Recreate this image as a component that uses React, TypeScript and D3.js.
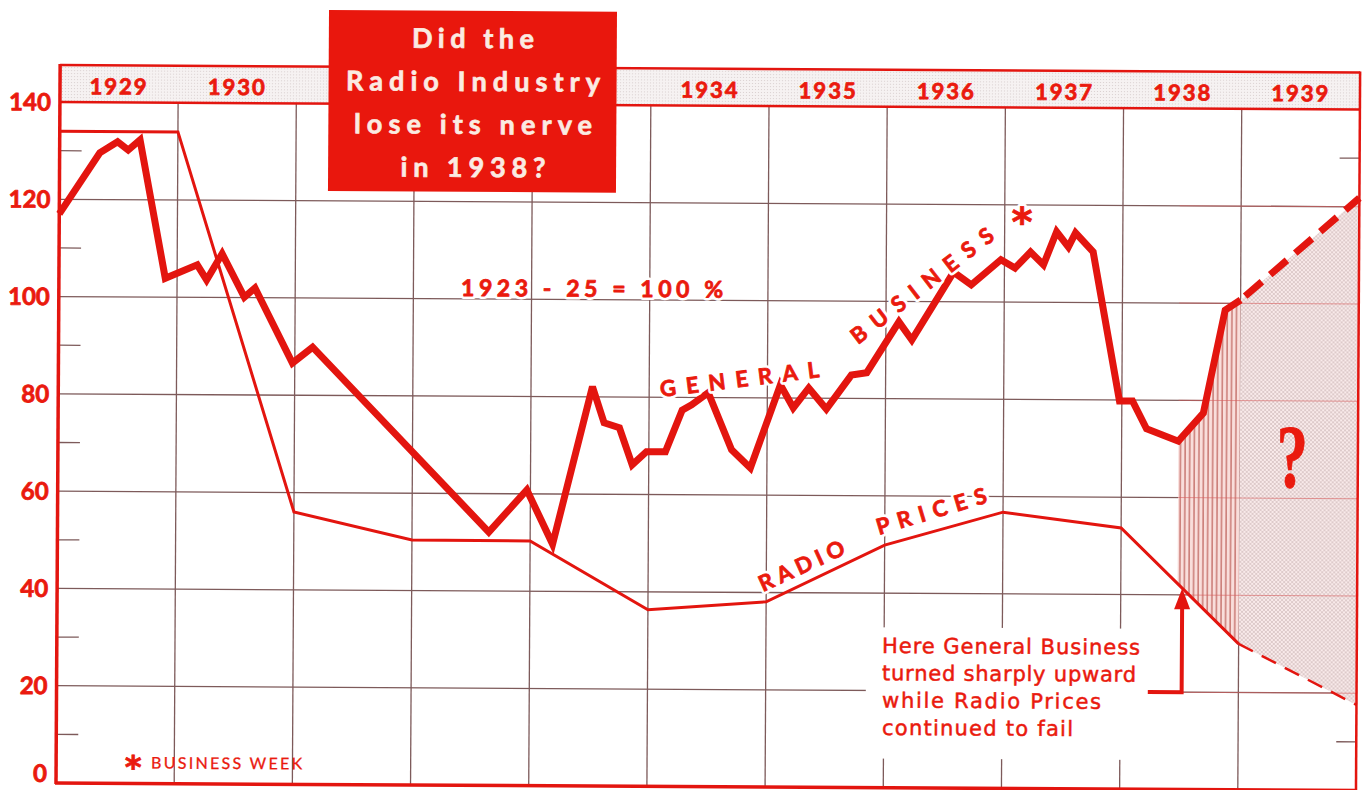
import React from 'react'
import * as d3 from 'd3'

// index values, 1923-25 = 100
const businessYears = [1929.0, 1929.34, 1929.49, 1929.58, 1929.68, 1929.9, 1930.17, 1930.25, 1930.38, 1930.57, 1930.66, 1930.98, 1931.15, 1932.65, 1932.97, 1933.19, 1933.52, 1933.62, 1933.75, 1933.86, 1933.98, 1934.14, 1934.28, 1934.36, 1934.5, 1934.7, 1934.86, 1935.11, 1935.22, 1935.35, 1935.5, 1935.71, 1935.84, 1936.11, 1936.22, 1936.57, 1936.72, 1936.97, 1937.09, 1937.22, 1937.33, 1937.44, 1937.54, 1937.6, 1937.75, 1937.98, 1938.09, 1938.21, 1938.48, 1938.69, 1938.87, 1939.0]
const businessValues = [117, 129.6, 131.9, 130.2, 132.3, 103.9, 106.7, 103.6, 109.0, 100.1, 102.0, 86.6, 89.9, 52.1, 60.8, 49.7, 82.1, 74.7, 73.7, 66.1, 68.8, 68.8, 77.4, 78.5, 81.0, 69.3, 65.6, 82.7, 78.0, 82.1, 77.8, 84.8, 85.3, 95.8, 92.1, 106.1, 103.5, 108.7, 107.0, 110.3, 107.7, 114.5, 111.4, 114.3, 110.4, 79.8, 79.8, 74.1, 71.6, 77.4, 98.6, 100.7]
const businessProjYears = [1939.0, 1940.0]
const businessProjValues = [100.7, 121.8]

const radioYears = [1929, 1930, 1931, 1932, 1933, 1934, 1935, 1936, 1937, 1938, 1939]
const radioValues = [134, 134, 56, 50.4, 50.3, 36.3, 38.1, 49.9, 56.8, 53.7, 30.0]
const radioProjYears = [1939, 1940]
const radioProjValues = [30.0, 17.6]

const headerYears = [1929, 1930, 1934, 1935, 1936, 1937, 1938, 1939]
const gridYears = [1930, 1931, 1932, 1933, 1934, 1935, 1936, 1937, 1938, 1939]
const yTicks = [0, 20, 40, 60, 80, 100, 120, 140]
const gridValues = [20, 40, 60, 80, 100, 120]
const minorTicks = [10, 30, 50, 70, 90, 110, 130]

const titleLines = ['Did the', 'Radio Industry', 'lose its nerve', 'in 1938?']
const noteLines = ['Here General Business', 'turned sharply upward', 'while Radio Prices', 'continued to fail']

const RED = '#e3150f'
const TXT = '#ea1a0e'
const GRID = '#7d5a5a'
const SANS = 'Lato, "Open Sans", sans-serif'
const HAND = '"DejaVu Sans", sans-serif'

// the scan is turned a little clockwise
const TILT = 0.33
const k = Math.sin((TILT * Math.PI) / 180)
const PX = 56
const PY = 783
const U = (X: number, Y: number): [number, number] => [X + (Y - PY) * k, Y - (X - PX) * k]

// bold red text with a white knock-out behind it
const Label = ({ children, halo = true, ...p }: any) => (
  <g>
    {halo && <text {...p} fill="#fff" stroke="#fff" strokeWidth={6} strokeLinejoin="round">{children}</text>}
    <text {...p} fill={TXT} stroke={TXT} strokeWidth={0.8} strokeLinejoin="round">{children}</text>
  </g>
)

export default function App() {
  const x = d3.scaleLinear().domain([1929, 1940]).range([56, 1356])
  const y = d3.scaleLinear().domain([0, 140]).range([783, 102])
  const radioAt = d3.scaleLinear().domain(radioYears).range(radioValues)

  const biz: [number, number][] = businessYears.map((t, i) => [t, businessValues[i]])
  const bizProj: [number, number][] = businessProjYears.map((t, i) => [t, businessProjValues[i]])
  const radio: [number, number][] = radioYears.map((t, i) => [t, radioValues[i]])
  const radioProj: [number, number][] = radioProjYears.map((t, i) => [t, radioProjValues[i]])

  const line = d3.line<[number, number]>().x(d => x(d[0])).y(d => y(d[1]))

  // gap between business low of 1938 and year end
  const low = d3.least(biz.filter(d => d[0] >= 1938), d => d[1])!
  const hatchPts = biz.filter(d => d[0] >= low[0])
  const hatch = d3.area<[number, number]>()
    .x(d => x(d[0]))
    .y1(d => y(d[1]))
    .y0(d => y(radioAt(d[0])))(hatchPts)

  const proj = d3.area<number>()
    .x(i => x(businessProjYears[i]))
    .y1(i => y(businessProjValues[i]))
    .y0(i => y(radioProjValues[i]))(businessProjYears.map((_, i) => i))

  const xL = x(1929)
  const xR = x(1940)
  const yTop = y(140)
  const yBot = y(0)
  const headTop = 65

  // text placement (picture coords -> chart coords)
  const numLbl = U(461, 296)
  const gen = U(661, 397)
  const bus = U(858, 345)
  const star = U(1022, 236)
  const radioLbl = U(763, 592)
  const pricesLbl = U(879, 535)
  const q = U(1292, 487)
  const noteX = U(882, 653)[0]
  const box = U(329, 10)

  const arrowYear = 1938.52
  const ax = x(arrowYear)
  const ay = y(radioAt(arrowYear))
  const ah = y(20)

  return (
    <svg width={1362} height={790} style={{ position: 'absolute', left: 0, top: 0, background: '#fff' }}>
      <defs>
        <pattern id="hatch" patternUnits="userSpaceOnUse" width={4.6} height={8}>
          <rect width={4.6} height={8} fill="#f9dedb" />
          <line x1={1} x2={1} y1={0} y2={8} stroke="#b8554f" strokeWidth={1.1} />
        </pattern>
        <pattern id="dots" patternUnits="userSpaceOnUse" width={4} height={4}>
          <rect width={4} height={4} fill="#f9eaea" />
          <circle cx={1} cy={1} r={0.75} fill="#b49a9a" />
          <circle cx={3} cy={3} r={0.75} fill="#b49a9a" />
        </pattern>
        <pattern id="head" patternUnits="userSpaceOnUse" width={3} height={3}>
          <rect width={3} height={3} fill="#f6f2f2" />
          <circle cx={1.5} cy={1.5} r={0.6} fill="#d6cccc" />
        </pattern>
      </defs>

      <g transform={`rotate(${TILT} ${PX} ${PY})`}>
        {/* grid */}
        {gridValues.map(v => (
          <line key={'h' + v} x1={xL} x2={xR} y1={y(v)} y2={y(v)} stroke={GRID} strokeWidth={1.3} />
        ))}
        {gridYears.map(t => (
          <line key={'v' + t} x1={x(t)} x2={x(t)} y1={yTop} y2={yBot} stroke={GRID} strokeWidth={1.3} />
        ))}
        {minorTicks.map(v => (
          <g key={'m' + v}>
            <line x1={xL} x2={xL + 22} y1={y(v)} y2={y(v)} stroke={GRID} strokeWidth={1.3} />
            <line x1={xR - 20} x2={xR} y1={y(v)} y2={y(v)} stroke={GRID} strokeWidth={1.3} />
          </g>
        ))}

        {/* knock-out behind note */}
        <rect x={noteX - 16} y={y(33)} width={284} height={y(6) - y(33)} fill="#fff" />

        {/* shaded areas */}
        <path d={hatch ?? ''} fill="url(#hatch)" />
        <path d={proj ?? ''} fill="url(#dots)" />
        {gridValues.map(v => (
          <line key={'hr' + v} x1={x(low[0])} x2={xR} y1={y(v)} y2={y(v)} stroke="#d86060" strokeWidth={1} opacity={0.6} />
        ))}

        {/* header band */}
        <rect x={xL} y={headTop} width={xR - xL} height={yTop - headTop} fill="url(#head)" />
        <line x1={xL} x2={xR} y1={headTop} y2={headTop} stroke={RED} strokeWidth={2.5} />
        <line x1={xL} x2={xR} y1={yTop} y2={yTop} stroke={RED} strokeWidth={2.5} />
        {headerYears.map(t => (
          <Label key={'yr' + t} halo={false} x={x(t + 0.5)} y={94} textAnchor="middle" fontFamily={SANS} fontWeight={700}
            fontSize={22} letterSpacing={2}>{t}</Label>
        ))}

        {/* frame */}
        <line x1={xL} x2={xL} y1={headTop - 1} y2={yBot + 1} stroke={RED} strokeWidth={3.5} />
        <line x1={xR} x2={xR} y1={headTop - 1} y2={yBot + 1} stroke={RED} strokeWidth={2.5} />
        <line x1={xL - 1} x2={xR + 1} y1={yBot} y2={yBot} stroke={RED} strokeWidth={3.5} />

        {/* y labels */}
        {yTicks.map(v => (
          <Label key={'yl' + v} halo={false} x={47} y={Math.min(y(v) + 8.5, 782)} textAnchor="end" fontFamily={SANS}
            fontWeight={700} fontSize={24}>{v}</Label>
        ))}

        {/* radio prices */}
        <path d={line(radio) ?? ''} fill="none" stroke={RED} strokeWidth={3} strokeLinejoin="miter" />
        <path d={line(radioProj) ?? ''} fill="none" stroke={RED} strokeWidth={2.5} strokeDasharray="16 10" />

        {/* general business */}
        <path d={line(biz) ?? ''} fill="none" stroke={RED} strokeWidth={7} strokeLinejoin="miter" strokeMiterlimit={3} />
        <path d={line(bizProj) ?? ''} fill="none" stroke={RED} strokeWidth={7} strokeDasharray="22 11" strokeDashoffset={-6} />

        {/* labels on the lines */}
        <Label x={numLbl[0]} y={numLbl[1]} fontFamily={SANS} fontWeight={700} fontSize={23}
          textLength={262} lengthAdjust="spacing">1923 - 25 = 100 %</Label>
        <Label transform={`translate(${gen[0]},${gen[1]}) rotate(-7.5)`} fontFamily={SANS} fontWeight={700} fontSize={22}
          textLength={160} lengthAdjust="spacing">GENERAL</Label>
        <Label transform={`translate(${bus[0]},${bus[1]}) rotate(-38)`} fontFamily={SANS} fontWeight={700} fontSize={22}
          textLength={174} lengthAdjust="spacing">BUSINESS</Label>
        <Label x={star[0]} y={star[1]} textAnchor="middle" fontFamily={HAND} fontWeight={700} fontSize={40}>*</Label>
        <Label transform={`translate(${radioLbl[0]},${radioLbl[1]}) rotate(-25)`} fontFamily={SANS} fontWeight={700}
          fontSize={22} textLength={92} lengthAdjust="spacing">RADIO</Label>
        <Label transform={`translate(${pricesLbl[0]},${pricesLbl[1]}) rotate(-17)`} fontFamily={SANS} fontWeight={700}
          fontSize={22} textLength={114} lengthAdjust="spacing">PRICES</Label>

        {/* question mark */}
        <Label halo={false} transform={`translate(${q[0]},${q[1]}) scale(0.7,1)`} textAnchor="middle"
          fontFamily='"Liberation Serif", serif' fontWeight={700} fontSize={90}>?</Label>

        {/* note + arrow */}
        {noteLines.map((s, i) => {
          const p = U(882, 653 + i * 27.3)
          const lens = [258, 254, 219, 191]
          return (
            <text key={s} x={p[0]} y={p[1]} fontFamily={HAND} fontSize={21} fill={TXT} stroke={TXT} strokeWidth={0.5}
              textLength={lens[i]} lengthAdjust="spacing">{s}</text>
          )
        })}
        <path d={`M${noteX + 266},${ah} H${ax} V${ay + 18}`} fill="none" stroke={RED} strokeWidth={4} />
        <path d={`M${ax},${ay} L${ax - 8},${ay + 21} L${ax + 8},${ay + 21} Z`} fill={RED} />

        {/* source */}
        <Label halo={false} x={133} y={778} textAnchor="middle" fontFamily={HAND} fontWeight={700} fontSize={32}>*</Label>
        <text x={151} y={768} fontFamily={SANS} fontSize={16} fill={TXT} stroke={TXT} strokeWidth={0.3}
          textLength={151} lengthAdjust="spacing">BUSINESS WEEK</text>

        {/* title box */}
        <rect x={box[0]} y={box[1]} width={288} height={181} fill="#e9170d" />
        {titleLines.map((s, i) => {
          const p = U(473, 48 + i * 43)
          const lens = [122, 254, 238, 145]
          return (
            <text key={s} x={p[0]} y={p[1]} textAnchor="middle" fontFamily={SANS} fontWeight={700} fontSize={27}
              fill="#fbebe2" stroke="#fbebe2" strokeWidth={0.7} textLength={lens[i]} lengthAdjust="spacing">{s}</text>
          )
        })}
      </g>
    </svg>
  )
}
